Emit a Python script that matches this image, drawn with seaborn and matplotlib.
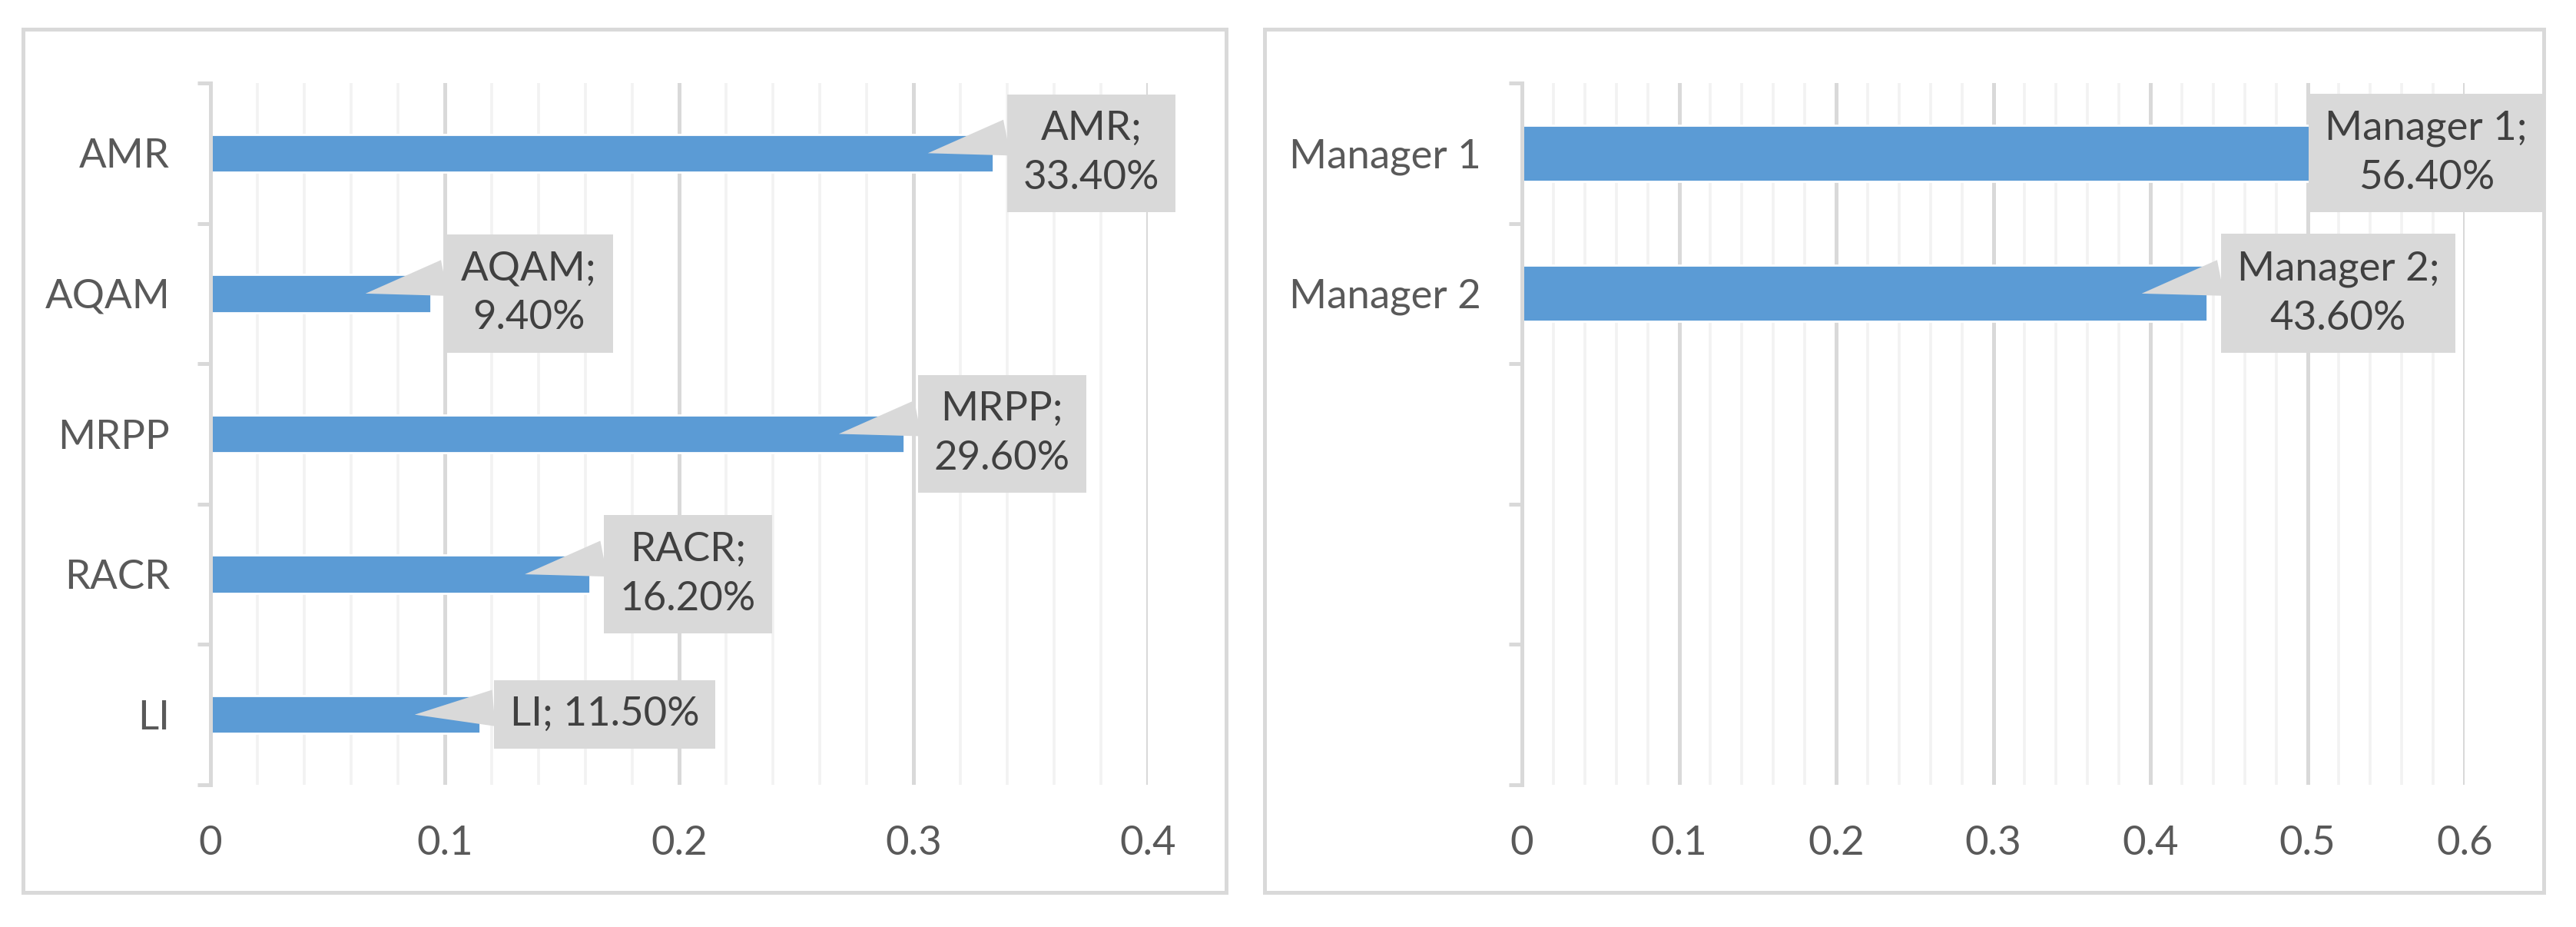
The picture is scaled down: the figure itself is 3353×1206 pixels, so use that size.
import numpy as np
import matplotlib
matplotlib.use("Agg")
import matplotlib.pyplot as plt
import matplotlib.transforms as mtransforms
from matplotlib.patches import Rectangle
from matplotlib.ticker import MultipleLocator, FuncFormatter
import seaborn as sns

# data
left_cats = ["AMR", "AQAM", "MRPP", "RACR", "LI"]
left_vals = [0.334, 0.094, 0.296, 0.162, 0.115]
right_cats = ["Manager 1", "Manager 2"]
right_vals = [0.564, 0.436]

sns.set_theme(style="white")
plt.rcParams['font.family'] = ['Lato', 'DejaVu Sans']

BAR = '#5B9BD5'
GRID = '#D9D9D9'
MINOR = '#F2F2F2'
TXT = '#595959'
LBL = '#404040'
BOX = '#D9D9D9'
FS = 19

fig = plt.figure(figsize=(16.765, 6.03), dpi=200)
W, H = 3353, 1206

# chart-area borders
for (x0, x1) in [(30, 1596), (1646, 3311)]:
    fig.patches.append(Rectangle((x0 / W, 1 - 1161 / H), (x1 - x0) / W, (1161 - 38) / H,
                                 transform=fig.transFigure, fill=False,
                                 ec=GRID, lw=1.8, zorder=0))

axL = fig.add_axes([274 / W, 1 - 1021 / H, 1220 / W, 913 / H])
axR = fig.add_axes([1981 / W, 1 - 1021 / H, 1227 / W, 913 / H])


def style_axes(ax, xmax):
    ax.set_xlim(0, xmax)
    ax.set_ylim(4.5, -0.5)
    ax.xaxis.set_major_locator(MultipleLocator(0.1))
    ax.xaxis.set_minor_locator(MultipleLocator(0.02))
    ax.xaxis.set_major_formatter(FuncFormatter(lambda v, p: f"{v:g}"))
    ax.grid(which='major', axis='x', color=GRID, lw=1.8)
    ax.grid(which='minor', axis='x', color=MINOR, lw=1.3)
    ax.grid(axis='y', visible=False)
    ax.set_axisbelow(True)
    for s in ['top', 'right', 'bottom']:
        ax.spines[s].set_visible(False)
    ax.spines['left'].set_color(GRID)
    ax.spines['left'].set_linewidth(1.8)
    ax.set_yticks(np.arange(-0.5, 5.0, 1.0), minor=True)
    ax.tick_params(axis='y', which='minor', length=6, width=1.8, color=GRID, direction='out', left=True)
    ax.tick_params(axis='y', which='major', length=0, pad=19, labelsize=FS, labelcolor=TXT)
    ax.tick_params(axis='x', which='both', length=0, pad=19, labelsize=FS, labelcolor=TXT, bottom=False)
    ax.set_xlabel("")
    ax.set_ylabel("")


def callouts(ax, cats, vals, xmax):
    for i, (c, v) in enumerate(zip(cats, vals)):
        sep = " " if len(c) < 3 else "\n"
        txt = f"{c};{sep}{v * 100:.2f}%"
        # wedge tip sits a little inside the bar end
        tip = mtransforms.offset_copy(ax.transData, fig=fig, x=-85, y=0, units='dots')
        if v / xmax > 0.9:
            # no room at the right: the box is pulled back over the bar
            room = ax.transAxes.transform((1, 0))[0] - ax.transData.transform((v, 0))[0]
            dx, ha = room + 82, 'right'
        else:
            dx, ha = 39, 'left'
        anchor = mtransforms.offset_copy(ax.transData, fig=fig, x=dx, y=0, units='dots')
        ax.annotate(txt, xy=(v, i), xycoords=tip,
                    xytext=(v, i), textcoords=anchor,
                    ha=ha, va='center', multialignment='center', fontsize=FS, color=LBL,
                    linespacing=1.45, annotation_clip=False, zorder=5,
                    bbox=dict(boxstyle='square,pad=0.4', fc=BOX, ec='none'),
                    arrowprops=dict(arrowstyle='wedge,tail_width=0.9', fc=BOX, ec='none',
                                    relpos=(0, 0.72), shrinkA=0, shrinkB=0))


sns.barplot(x=left_vals, y=left_cats, orient='h', color=BAR, width=0.27,
            saturation=1, ax=axL, zorder=2)
style_axes(axL, 0.4)
callouts(axL, left_cats, left_vals, 0.4)

sns.barplot(x=right_vals, y=right_cats, orient='h', color=BAR, width=0.4,
            saturation=1, ax=axR, zorder=2)
style_axes(axR, 0.6)
callouts(axR, right_cats, right_vals, 0.6)

fig.savefig("out.png", dpi=200, facecolor='white')
